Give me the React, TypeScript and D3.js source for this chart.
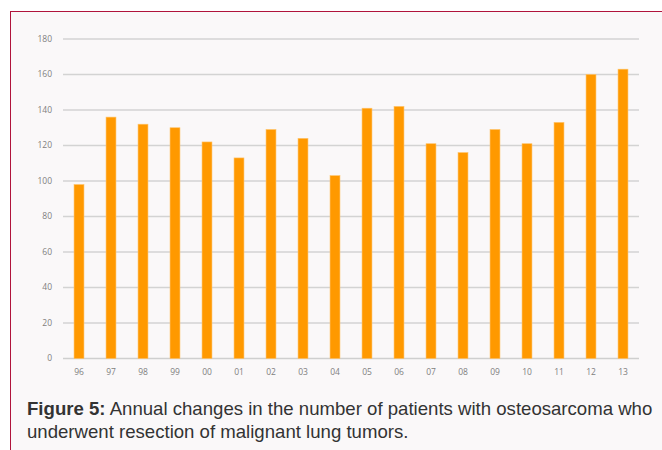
import React from 'react';
import * as d3 from 'd3';

// years (two-digit labels) and number of patients
const years = ['96', '97', '98', '99', '00', '01', '02', '03', '04', '05', '06', '07', '08', '09', '10', '11', '12', '13'];
const patients = [98, 136, 132, 130, 122, 113, 129, 124, 103, 141, 142, 121, 116, 129, 121, 133, 160, 163];
const yTicks = [0, 20, 40, 60, 80, 100, 120, 140, 160, 180];

const W = 662;
const H = 450;
const margin = { top: 39, right: 23, bottom: 91.5, left: 63 };

const App = () => {
  const x = d3
    .scaleBand()
    .domain(years)
    .range([margin.left, W - margin.right])
    .paddingInner(0.69)
    .paddingOuter(0.345);

  const y = d3
    .scaleLinear()
    .domain([0, 180])
    .range([H - margin.bottom, margin.top]);

  const data = years.map((yr, i) => ({ yr, v: patients[i] }));

  return (
    <svg
      width={W}
      height={H}
      style={{ position: 'absolute', left: 0, top: 0, display: 'block' }}
    >
      <rect x={0} y={0} width={W} height={H} fill="#ffffff" />
      {/* panel */}
      <rect x={10.5} y={11.5} width={W} height={H} fill="#faf8f9" stroke="#b0143c" strokeWidth={1} />

      {/* gridlines + y labels */}
      {yTicks.map(t => (
        <g key={t}>
          <line
            x1={margin.left}
            x2={W - margin.right}
            y1={y(t)}
            y2={y(t)}
            stroke={t === 0 ? '#cfcfcf' : '#d3d3d3'}
            strokeWidth={1.5}
          />
          <text
            x={52}
            y={y(t)}
            dy="0.35em"
            textAnchor="end"
            fontFamily="'Open Sans', sans-serif"
            fontSize={8.5}
            fill="#7f7f7f"
          >
            {t}
          </text>
        </g>
      ))}

      {/* bars */}
      {data.map(d => (
        <rect
          key={d.yr}
          x={x(d.yr)}
          y={y(d.v)}
          width={x.bandwidth()}
          height={y(0) - y(d.v)}
          fill="#ff9900"
          stroke="#ffc266"
          strokeWidth={0.6}
        />
      ))}

      {/* x labels */}
      {years.map(yr => (
        <text
          key={yr}
          x={(x(yr) ?? 0) + x.bandwidth() / 2}
          y={375}
          textAnchor="middle"
          fontFamily="'Open Sans', sans-serif"
          fontSize={8.5}
          fill="#7f7f7f"
        >
          {yr}
        </text>
      ))}

      {/* caption */}
      <text x={27} y={415} fontFamily="'Liberation Sans', Arial, sans-serif" fontSize={18.6} fill="#333333">
        <tspan fontWeight="bold">Figure 5:</tspan>
        <tspan> Annual changes in the number of patients with osteosarcoma who</tspan>
      </text>
      <text x={27} y={438} fontFamily="'Liberation Sans', Arial, sans-serif" fontSize={18.6} fill="#333333">
        underwent resection of malignant lung tumors.
      </text>
    </svg>
  );
};

export default App;
